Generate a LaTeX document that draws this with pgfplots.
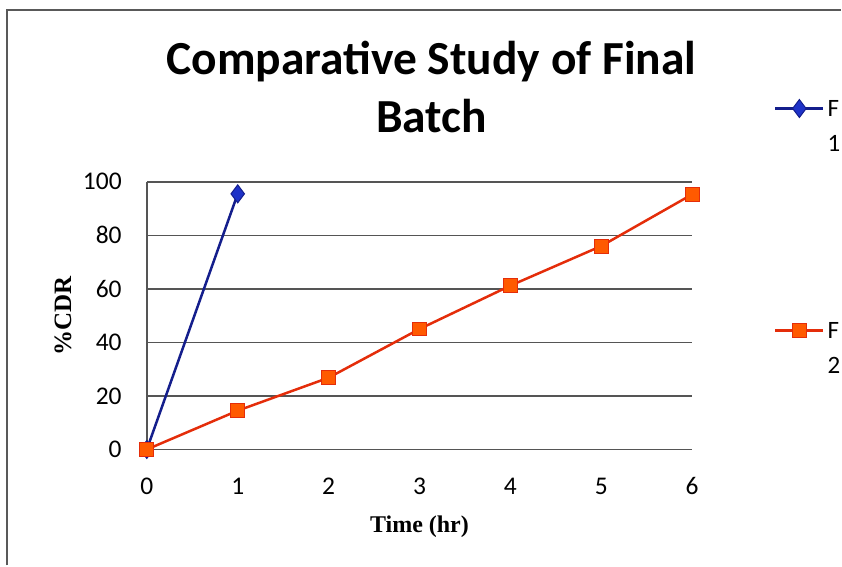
\documentclass[border=0pt]{standalone}
\usepackage{fontspec}
\setmainfont{Carlito}
\newfontfamily\tnr{Liberation Serif}
\usepackage{pgfplots}
\pgfplotsset{compat=1.18}
\definecolor{fblue}{RGB}{30,50,200}
\definecolor{fnavy}{RGB}{20,30,140}
\definecolor{fred}{RGB}{228,45,10}
\definecolor{forange}{RGB}{255,90,0}
\definecolor{gridc}{RGB}{85,85,85}
\begin{document}
\begin{tikzpicture}[x=1pt,y=1pt]
\path (0,0) rectangle (842,566);
\draw[line width=2pt, black!65] (7.5,0) -- (7.5,556) -- (842,556);
\node[anchor=base, font=\fontsize{47.5}{58}\selectfont\bfseries] at (432,491) {Comparative Study of Final};
\node[anchor=base, font=\fontsize{47.5}{58}\selectfont\bfseries] at (432,433) {Batch};
\begin{axis}[
  at={(147pt,116pt)}, anchor=south west,
  scale only axis, width=546pt, height=268pt,
  xmin=0, xmax=6, ymin=0, ymax=100,
  xtick={0,1,2,3,4,5,6}, ytick={0,20,40,60,80,100},
  axis x line=bottom, axis y line=left,
  axis line style={-, line width=1.5pt, gridc},
  ymajorgrids, major grid style={line width=1.5pt, gridc},
  major tick length=0pt,
  tick label style={font=\fontsize{25.5}{30}\selectfont, inner sep=0pt},
  /pgf/number format/assume math mode=true,
  xticklabel style={anchor=base, yshift=-45pt},
  yticklabel style={anchor=east, xshift=-25pt},
  xlabel={Time (hr)},
  xlabel style={at={(axis description cs:0.5,0)}, anchor=base, yshift=-83pt, font=\fontsize{24}{28}\selectfont\tnr\bfseries},
  ylabel={\%CDR},
  ylabel style={at={(axis description cs:-0.1538,0.5)}, anchor=center, rotate=0, font=\fontsize{25}{28}\selectfont\tnr\bfseries},
  clip=false,
  legend image code/.code={\draw[mark repeat=2,mark phase=2,#1] plot coordinates {(0pt,0pt) (24pt,0pt) (48pt,0pt)};},
  legend style={overlay, at={(axis description cs:1.15,1.336)}, anchor=north west, draw=none, fill=none, inner sep=0pt, column sep=3pt, row sep=196pt,
    nodes={inner sep=0pt, anchor=base west, yshift=-8pt, font=\fontsize{25}{35}\selectfont}},
]
\addplot[color=fnavy, line width=2.5pt, mark=diamond*, mark size=9pt, mark options={solid, fill=fblue, draw=fnavy, line width=1pt}] coordinates {(0,0) (1,95.5)};
\addlegendentry{\begin{tabular}[t]{@{}l@{}}F\\1\end{tabular}}
\addplot[color=fred, line width=2.5pt, mark=square*, mark size=7pt, mark options={solid, fill=forange, draw=fred, line width=1pt}] coordinates {(0,0) (1,14.5) (2,26.8) (3,45) (4,61.2) (5,76) (6,95.3)};
\addlegendentry{\begin{tabular}[t]{@{}l@{}}F\\2\end{tabular}}
\end{axis}
\end{tikzpicture}
\end{document}
